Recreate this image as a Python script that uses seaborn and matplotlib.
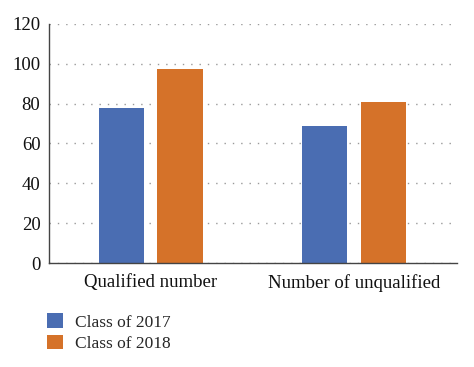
import matplotlib as mpl
import matplotlib.pyplot as plt
import seaborn as sns
import pandas as pd

categories = ["Qualified number", "Number of unqualified"]
classes = ["Class of 2017", "Class of 2018"]
class_2017 = [78, 69]
class_2018 = [97.5, 81]

df = pd.DataFrame({
    "category": categories * 2,
    "cls": [classes[0]] * 2 + [classes[1]] * 2,
    "value": class_2017 + class_2018,
})

sns.set_style("white")
mpl.rcParams['font.family'] = ['Liberation Serif', 'DejaVu Serif']
font = {'size': 12}
mpl.rc('font', **font)

fig = plt.figure(figsize=(4.74, 3.67), dpi=100)
ax = fig.add_axes([0.103, 0.283, 0.861, 0.652])

palette = {classes[0]: "#4A6DB2", classes[1]: "#D57229"}
sns.barplot(data=df, x="category", y="value", hue="cls", palette=palette,
            width=0.574, gap=0.226, ax=ax, saturation=1, legend=True,
            linewidth=0)

ax.set_ylim(0, 120)
ax.set_xlim(-0.502, 1.507)
ax.set_yticks(range(0, 121, 20))
ax.set_xlabel('')
ax.set_ylabel('')
ax.yaxis.grid(True, linestyle=(0, (1, 5)), color='#999999', linewidth=1)
ax.set_axisbelow(True)
for s in ['top', 'right']:
    ax.spines[s].set_visible(False)
for s in ['left', 'bottom']:
    ax.spines[s].set_color('#444444')
    ax.spines[s].set_linewidth(1)
ax.tick_params(axis='both', length=0, labelsize=13.5, colors='#111111')
ax.tick_params(axis='y', pad=6)
ax.tick_params(axis='x', pad=8)

handles, labels = ax.get_legend_handles_labels()
ax.get_legend().remove()
fig.legend(handles, labels, loc='upper left', bbox_to_anchor=(0.085, 0.165),
           frameon=False, fontsize=12.5, handlelength=0.9, handleheight=0.9,
           handletextpad=0.7, labelspacing=0.25, borderaxespad=0)

plt.savefig('out.png', dpi=100)
